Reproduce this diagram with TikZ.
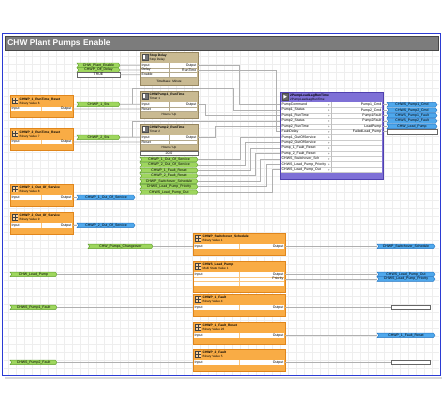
\documentclass[tikz,border=0pt]{standalone}
\usepackage{fontspec}
\setmainfont{Liberation Sans}
\definecolor{orf}{HTML}{F9AC45}
\definecolor{ord}{HTML}{E0861C}
\definecolor{tanf}{HTML}{C9BA92}
\definecolor{tand}{HTML}{968660}
\definecolor{purf}{HTML}{7E70D6}
\definecolor{purd}{HTML}{4F40AE}
\definecolor{grf}{HTML}{9ED65E}
\definecolor{grd}{HTML}{5F9E2C}
\definecolor{blf}{HTML}{4FA8EC}
\definecolor{bld}{HTML}{2676C2}
\definecolor{wire}{HTML}{B0B0B0}
\definecolor{frameb}{HTML}{2B3BD4}
\definecolor{gridc}{HTML}{EEEEEE}
\definecolor{titleg}{HTML}{7C7C7C}
\newcommand{\tx}{\fontsize{3.5}{4}\selectfont}
\newcommand{\txb}{\fontsize{3.3}{4}\selectfont\bfseries}
\newcommand{\txs}{\fontsize{3.1}{3.6}\selectfont}
\tikzset{
  wirel/.style={draw=wire, line width=0.8pt},
  lbl/.style={font=\tx, inner sep=0pt},
  gtagf/.style={fill=grf, draw=grd, line width=0.4pt},
  btagf/.style={fill=blf, draw=bld, line width=0.4pt},
}
% icons
\newcommand{\oicon}[2]{%
  \fill[black!75] ({#1},{#2}) rectangle ({#1+6.5},{#2+6.5});
  \foreach \ix in {0,1} \foreach \iy in {0,1}
    \fill[orf!55] ({#1+0.7+3*\ix},{#2+0.7+3*\iy}) rectangle ({#1+2.8+3*\ix},{#2+2.8+3*\iy});
}
\newcommand{\ticon}[2]{%
  \draw[black!70, fill=black!55, line width=0.3pt] ({#1},{#2}) rectangle ({#1+6},{#2+6});
  \fill[white] ({#1+1.3},{#2+1.3}) rectangle ({#1+3.6},{#2+4.7});
}
% orange block: name, x, y, width, title, subtitle
\newcommand{\oblock}[6]{%
  \draw[draw=ord, fill=orf, line width=0.5pt] (#2,#3) rectangle ({#2+#4},{#3+22});
  \fill[white] ({#2+0.8},{#3+11}) rectangle ({#2+#4-0.8},{#3+15.7});
  \draw[orf!70, line width=0.3pt] ({#2+#4/2},{#3+11}) -- ({#2+#4/2},{#3+15.7});
  \oicon{#2+1.8}{#3+2}
  \node[lbl, font=\txb, anchor=west] (#1-t) at ({#2+9.5},{#3+3.8}) {#5};
  \node[lbl, font=\txs, anchor=west] (#1-s) at ({#2+9.5},{#3+7.6}) {#6};
  \node[lbl, anchor=west] (#1-i) at ({#2+1.5},{#3+13.35}) {Input};
  \node[lbl, anchor=east] (#1-o) at ({#2+#4-1.5},{#3+13.35}) {Output};
  \coordinate (#1-in) at (#2,{#3+13.35});
  \coordinate (#1-out) at ({#2+#4},{#3+13.35});
}
% tan block: name, x, y, width, title, subtitle, rows, footer, footer height
\newcommand{\tblock}[9]{%
  \pgfmathsetmacro{\trowend}{#3+11+4.7*#7}
  \pgfmathsetmacro{\tbotend}{\trowend+#9}
  \draw[draw=tand, fill=tanf, line width=0.5pt] (#2,#3) rectangle ({#2+#4},\tbotend);
  \fill[white] ({#2+0.8},{#3+11}) rectangle ({#2+#4-0.8},\trowend);
  \foreach \k in {1,...,#7} {
    \draw[tanf!70!gray, line width=0.25pt] ({#2+0.8},{#3+11+4.7*\k}) -- ({#2+#4-0.8},{#3+11+4.7*\k});
  }
  \draw[tanf!70!gray, line width=0.3pt] ({#2+#4/2},{#3+11}) -- ({#2+#4/2},\trowend);
  \ticon{#2+1.8}{#3+2}
  \node[lbl, font=\txb, anchor=west] (#1-t) at ({#2+9.5},{#3+3.8}) {#5};
  \node[lbl, font=\txs, anchor=west] (#1-s) at ({#2+9.5},{#3+7.6}) {#6};
  \node[lbl, font=\txs] (#1-f) at ({#2+#4/2},{(\trowend+\tbotend)/2}) {#8};
}
% row ports of a tan block: name, x, y, width, rows
\newcommand{\tports}[5]{%
  \foreach \k in {1,...,#5} {
    \coordinate (#1-L\k) at (#2,{#3+8.65+4.7*\k});
    \coordinate (#1-R\k) at ({#2+#4},{#3+8.65+4.7*\k});
  }
}
% tag: name, x-left, x-right, y, text, style
\newcommand{\tagnode}[6]{%
  \draw[#6] (#2,{#4-2.3}) -- ({#3-1.7},{#4-2.3}) -- (#3,#4) -- ({#3-1.7},{#4+2.3}) -- (#2,{#4+2.3}) -- ({#2+1.7},#4) -- cycle;
  \node[lbl, minimum width={#3-#2}, minimum height=4.6] (#1) at ({(#2+#3)/2},#4) {#5};
}
\newcommand{\wboxnode}[5]{%
  \node[draw=gray!80!black, fill=white, line width=0.5pt, minimum width={#3-#2}, minimum height=4.6, inner sep=0pt, font=\tx] (#1) at ({(#2+#3)/2},#4) {#5};
}
\begin{document}
\begin{tikzpicture}[x=1pt,y=-1pt]
\useasboundingbox (0,0) rectangle (443,411);
\fill[white] (0,0) rectangle (443,411);
% grid
\foreach \gx in {8,16,...,432} \draw[gridc, line width=0.4pt] (\gx,51) -- (\gx,374.5);
\foreach \gy in {56,64,...,368} \draw[gridc, line width=0.4pt] (4,\gy) -- (439,\gy);
% frame
\draw[gray!30, line width=1.6pt] (5,377.8) -- (441.5,377.8);
\draw[frameb, line width=1.3pt] (2.6,33.6) rectangle (440.4,375.4);
\draw[fill=titleg, draw=gray!55!black, line width=0.7pt] (5,36) rectangle (438,50.5);
\node[anchor=west, inner sep=0pt, font=\fontsize{8.4}{10}\selectfont\bfseries, text=white] (title) at (7.2,43.3) {CHW Plant Pumps Enable};

% ---------- ports (defined first so wires can sit under blocks) ----------
\tports{sd}{140}{52}{58}{3}
\tports{ta}{140}{91}{58}{2}
\tports{tb}{140}{124}{58}{2}
\foreach \k in {0,...,12} { \coordinate (ll-L\k) at (280,{104.71+5.42*\k}); }
\foreach \k in {0,...,5} { \coordinate (ll-R\k) at (383,{104.71+5.42*\k}); }

% ---------- tags ----------
\tagnode{cpe}{77}{120}{65.35}{CHW\_Plant\_Enable}{gtagf}
\tagnode{cod}{77}{120}{70.05}{CHWP\_Off\_Delay}{gtagf}
\wboxnode{tru}{77}{120}{74.75}{TRUE}
\tagnode{sa}{77}{120}{104.35}{CHWP\_1\_Sts}{gtagf}
\tagnode{sb}{77}{120}{137.35}{CHWP\_2\_Sts}{gtagf}
\tagnode{qa}{77}{135}{197.35}{CHWP\_1\_Out\_Of\_Service}{btagf}
\tagnode{qb}{77}{135}{225.35}{CHWP\_2\_Out\_Of\_Service}{btagf}

\tagnode{g1}{140}{198}{159.5}{CHWP\_1\_Out\_Of\_Service}{gtagf}
\tagnode{g2}{140}{198}{164.95}{CHWP\_2\_Out\_Of\_Service}{gtagf}
\tagnode{g3}{140}{198}{170.4}{CHWP\_1\_Fault\_Reset}{gtagf}
\tagnode{g4}{140}{198}{175.85}{CHWP\_2\_Fault\_Reset}{gtagf}
\tagnode{g5}{140}{198}{181.3}{CHWP\_Switchover\_Schedule}{gtagf}
\tagnode{g6}{140}{198}{186.75}{CHWS\_Lead\_Pump\_Priority}{gtagf}
\tagnode{g7}{140}{198}{192.2}{CHWS\_Lead\_Pump\_Out}{gtagf}

\tagnode{pa}{387}{437}{104.71}{CHWS\_Pump1\_Cmd}{btagf}
\tagnode{pb}{387}{437}{110.13}{CHWS\_Pump2\_Cmd}{btagf}
\tagnode{pc}{387}{437}{115.55}{CHWS\_Pump1\_Fault}{btagf}
\tagnode{pd}{387}{437}{120.97}{CHWS\_Pump2\_Fault}{btagf}
\tagnode{pe}{387}{437}{126.39}{CHW\_Lead\_Pump}{btagf}
\wboxnode{pf}{387}{437}{131.81}{}

\tagnode{cpc}{88}{153}{246.35}{CHW\_Pumps\_Changeover}{gtagf}
\tagnode{swt}{377}{435}{246.35}{CHWP\_Switchover\_Schedule}{btagf}
\tagnode{clp}{10}{57}{274.35}{CHW\_Lead\_Pump}{gtagf}
\tagnode{lpo}{377}{435}{274.35}{CHWS\_Lead\_Pump\_Out}{btagf}
\tagnode{lpp}{377}{435}{279.05}{CHWS\_Lead\_Pump\_Priority}{btagf}
\tagnode{pfa}{10}{57}{307.35}{CHWS\_Pump1\_Fault}{gtagf}
\wboxnode{fab}{391}{430}{307.35}{}
\tagnode{frt}{377}{435}{335.35}{CHWP\_1\_Fault\_Reset}{btagf}
\tagnode{pfb}{10}{57}{362.35}{CHWS\_Pump2\_Fault}{gtagf}
\wboxnode{fbb}{391}{430}{362.35}{}

% ---------- blocks ----------
\tblock{sd}{140}{52}{58}{Stop Delay}{Stop Delay}{3}{TimeBase: Minute}{8}
\node[lbl, anchor=west] (sd-a1) at (141.5,65.35) {Input};
\node[lbl, anchor=west] (sd-a2) at (141.5,70.05) {Delay};
\node[lbl, anchor=west] (sd-a3) at (141.5,74.75) {Enable};
\node[lbl, anchor=east] (sd-b1) at (196.5,65.35) {Output};
\node[lbl, anchor=east] (sd-b2) at (196.5,70.05) {RunTime};

\tblock{ta}{140}{91}{58}{CHWPump1\_RunTime}{Timer 1}{2}{Hours / Up}{7}
\node[lbl, anchor=west] (ta-a1) at (141.5,104.35) {Input};
\node[lbl, anchor=west] (ta-a2) at (141.5,109.05) {Reset};
\node[lbl, anchor=east] (ta-b1) at (196.5,104.35) {Output};

\tblock{tb}{140}{124}{58}{CHWPump2\_RunTime}{Timer 2}{2}{Hours / Up}{6}
\node[lbl, anchor=west] (tb-a1) at (141.5,137.35) {Input};
\node[lbl, anchor=west] (tb-a2) at (141.5,142.05) {Reset};
\node[lbl, anchor=east] (tb-b1) at (196.5,137.35) {Output};
\wboxnode{tbv}{140}{198}{153.2}{20.0}

\oblock{ra}{10}{95.7}{63}{CHWP\_1\_RunTime\_Reset}{Binary Value 6}
\oblock{rb}{10}{128.7}{63}{CHWP\_2\_RunTime\_Reset}{Binary Value 7}
\oblock{oa}{10}{184}{63}{CHWP\_1\_Out\_Of\_Service}{Binary Value 8}
\oblock{ob}{10}{212}{63}{CHWP\_2\_Out\_Of\_Service}{Binary Value 9}

\oblock{sw}{193}{233}{92}{CHWP\_Switchover\_Schedule}{Binary Value 1}
% lead pump (multi state)
\draw[draw=ord, fill=orf, line width=0.5pt] (193,261) rectangle (285,292);
\fill[white] (193.8,272) rectangle (284.2,286.1);
\draw[orf!70, line width=0.3pt] (193.8,276.7) -- (284.2,276.7) (193.8,281.4) -- (284.2,281.4) (239,272) -- (239,286.1);
\oicon{194.8}{263}
\node[lbl, font=\txb, anchor=west] (lp-t) at (202.5,264.8) {CHWS\_Lead\_Pump};
\node[lbl, font=\txs, anchor=west] (lp-s) at (202.5,268.6) {Multi State Value 1};
\node[lbl, anchor=west] (lp-i) at (194.5,274.35) {Input};
\node[lbl, anchor=east] (lp-o) at (283.5,274.35) {Output};
\node[lbl, anchor=east] (lp-p) at (283.5,279.05) {Priority};
\coordinate (lp-in) at (193,274.35);
\coordinate (lp-out) at (285,274.35);
\coordinate (lp-out2) at (285,279.05);

\oblock{fa}{193}{294}{92}{CHWP\_1\_Fault}{Binary Value 4}
\oblock{fr}{193}{322}{92}{CHWP\_1\_Fault\_Reset}{Binary Value 26}
\oblock{fb}{193}{349}{92}{CHWP\_2\_Fault}{Binary Value 5}

% lead-lag block
\draw[draw=purd, fill=purf, line width=0.6pt] (280,92) rectangle (383,179);
\fill[white] (280.8,102) rectangle (382.2,172.46);
\foreach \k in {0,...,12} {
  \draw[gray!40, line width=0.25pt] (280.8,{102+5.42*(\k+1)}) -- (382.2,{102+5.42*(\k+1)});
  \fill[gray!60] (328,{104.71+5.42*\k-0.9}) -- (329.6,{104.71+5.42*\k}) -- (328,{104.71+5.42*\k+0.9}) -- cycle;
}
\draw[gray!50, line width=0.3pt] (331,102) -- (331,172.46);
\draw[black!70, fill=black!60, line width=0.3pt] (281.8,93.5) rectangle (288.2,99.9);
\fill[white] (283.4,94.8) -- (286.8,96.7) -- (283.4,98.6) -- cycle;
\node[lbl, font=\txb, anchor=west] (ll-t) at (290,95.4) {2PumpLeadLagRunTime};
\node[lbl, font=\txs, anchor=west] (ll-s) at (290,99.3) {2PumpLeadLagRunTime};
\foreach \k/\lab in {0/PumpCommand, 1/Pump1\_Status, 2/Pump1\_RunTime, 3/Pump2\_Status, 4/Pump2\_RunTime, 5/FaultDelay, 6/Pump1\_OutOfService, 7/Pump2\_OutOfService, 8/Pump\_1\_Fault\_Reset, 9/Pump\_2\_Fault\_Reset, 10/CHWS\_Switchover\_Sch, 11/CHWS\_Lead\_Pump\_Priority, 12/CHWS\_Lead\_Pump\_Out}
  \node[lbl, anchor=west] (ll-a\k) at (281.5,{104.71+5.42*\k}) {\lab};
\foreach \k/\lab in {0/Pump1\_Cmd, 1/Pump2\_Cmd, 2/Pump1Fault, 3/Pump2Fault, 4/LeadPump, 5/FailedLead\_Pump}
  \node[lbl, anchor=east] (ll-b\k) at (381.5,{104.71+5.42*\k}) {\lab};

% ---------- wires ----------
\draw[wirel] (cpe.east) -- (sd-L1);
\draw[wirel] (cod.east) -- (sd-L2);
\draw[wirel] (tru.east) -- (sd-L3);
\draw[wirel] (sd-R1) -- ++(41,0) |- (ll-L0);
\draw[wirel] (sd-R2) -- ++(78,0) |- (ll-L5);
\draw[wirel] (sa.east) -- (ta-L1);
\draw[wirel] ([xshift=12pt]sa.east) -- ++(0,-16.35) -- ++(101,0) |- (ll-L1);
\draw[wirel] (ra-out) -- (ta-L2);
\draw[wirel] (ta-R1) -- ++(7,0) |- (ll-L2);
\draw[wirel] (sb.east) -- (tb-L1);
\draw[wirel] ([xshift=12pt]sb.east) |- (ll-L3);
\draw[wirel] (rb-out) -- (tb-L2);
\draw[wirel] (tb-R1) -- ++(17,0) |- (ll-L4);
\draw[wirel] (g1.east) -- ++(42,0) |- (ll-L6);
\draw[wirel] (g2.east) -- ++(47,0) |- (ll-L7);
\draw[wirel] (g3.east) -- ++(52,0) |- (ll-L8);
\draw[wirel] (g4.east) -- ++(57,0) |- (ll-L9);
\draw[wirel] (g5.east) -- ++(62,0) |- (ll-L10);
\draw[wirel] (g6.east) -- ++(68,0) |- (ll-L11);
\draw[wirel] (g7.east) -- ++(74,0) |- (ll-L12);
\draw[wirel] (ll-R0) -- (pa.west);
\draw[wirel] (ll-R1) -- (pb.west);
\draw[wirel] (ll-R2) -- (pc.west);
\draw[wirel] (ll-R3) -- (pd.west);
\draw[wirel] (ll-R4) -- (pe.west);
\draw[wirel] (ll-R5) -- (pf.west);
\draw[wirel] (oa-out) -- (qa.west);
\draw[wirel] (ob-out) -- (qb.west);
\draw[wirel] (cpc.east) -- (sw-in);
\draw[wirel] (sw-out) -- (swt.west);
\draw[wirel] (clp.east) -- (lp-in);
\draw[wirel] (lp-out) -- (lpo.west);
\draw[wirel] (lp-out2) -- (lpp.west);
\draw[wirel] (pfa.east) -- (fa-in);
\draw[wirel] (fa-out) -- (fab.west);
\draw[wirel] (fr-out) -- (frt.west);
\draw[wirel] (pfb.east) -- (fb-in);
\draw[wirel] (fb-out) -- (fbb.west);
\end{tikzpicture}
\end{document}
